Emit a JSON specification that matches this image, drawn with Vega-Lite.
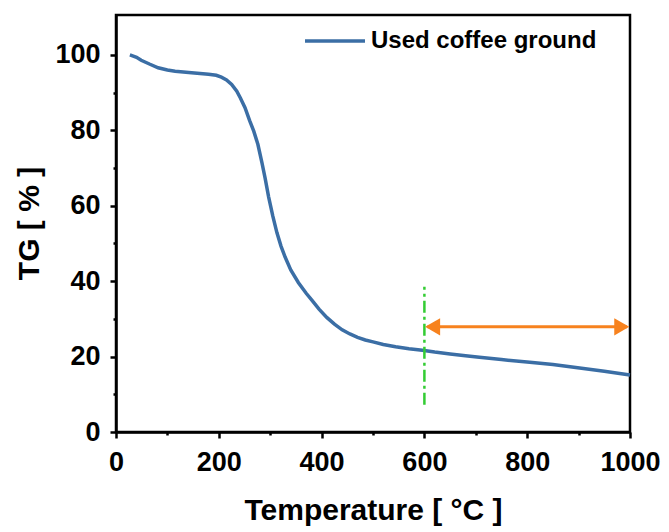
{
  "$schema": "https://vega.github.io/schema/vega-lite/v6.json",
  "width": 514,
  "height": 417,
  "autosize": {"type": "none"},
  "padding": {"left": 116, "top": 15, "right": 39, "bottom": 100},
  "background": "white",
  "config": {
    "view": {"stroke": "black", "strokeWidth": 2.5},
    "font": "Liberation Sans"
  },
  "datasets": {
    "tg": [
      {"T": 27, "TG": 100.0, "series": "Used coffee ground"},
      {"T": 40, "TG": 99.4, "series": "Used coffee ground"},
      {"T": 49, "TG": 98.6, "series": "Used coffee ground"},
      {"T": 65, "TG": 97.6, "series": "Used coffee ground"},
      {"T": 82, "TG": 96.6, "series": "Used coffee ground"},
      {"T": 100, "TG": 96.0, "series": "Used coffee ground"},
      {"T": 115, "TG": 95.7, "series": "Used coffee ground"},
      {"T": 147, "TG": 95.3, "series": "Used coffee ground"},
      {"T": 180, "TG": 94.9, "series": "Used coffee ground"},
      {"T": 195, "TG": 94.6, "series": "Used coffee ground"},
      {"T": 205, "TG": 94.1, "series": "Used coffee ground"},
      {"T": 215, "TG": 93.4, "series": "Used coffee ground"},
      {"T": 225, "TG": 92.2, "series": "Used coffee ground"},
      {"T": 235, "TG": 90.4, "series": "Used coffee ground"},
      {"T": 242, "TG": 88.6, "series": "Used coffee ground"},
      {"T": 251, "TG": 86.0, "series": "Used coffee ground"},
      {"T": 260, "TG": 82.6, "series": "Used coffee ground"},
      {"T": 268, "TG": 79.8, "series": "Used coffee ground"},
      {"T": 276, "TG": 76.3, "series": "Used coffee ground"},
      {"T": 284, "TG": 71.4, "series": "Used coffee ground"},
      {"T": 290, "TG": 67.4, "series": "Used coffee ground"},
      {"T": 297, "TG": 62.3, "series": "Used coffee ground"},
      {"T": 305, "TG": 57.3, "series": "Used coffee ground"},
      {"T": 313, "TG": 52.9, "series": "Used coffee ground"},
      {"T": 321, "TG": 49.3, "series": "Used coffee ground"},
      {"T": 329, "TG": 46.4, "series": "Used coffee ground"},
      {"T": 340, "TG": 43.0, "series": "Used coffee ground"},
      {"T": 355, "TG": 39.6, "series": "Used coffee ground"},
      {"T": 370, "TG": 36.8, "series": "Used coffee ground"},
      {"T": 381, "TG": 35.0, "series": "Used coffee ground"},
      {"T": 395, "TG": 32.6, "series": "Used coffee ground"},
      {"T": 410, "TG": 30.4, "series": "Used coffee ground"},
      {"T": 425, "TG": 28.6, "series": "Used coffee ground"},
      {"T": 440, "TG": 27.1, "series": "Used coffee ground"},
      {"T": 455, "TG": 26.0, "series": "Used coffee ground"},
      {"T": 470, "TG": 25.1, "series": "Used coffee ground"},
      {"T": 485, "TG": 24.4, "series": "Used coffee ground"},
      {"T": 500, "TG": 23.9, "series": "Used coffee ground"},
      {"T": 520, "TG": 23.2, "series": "Used coffee ground"},
      {"T": 544, "TG": 22.6, "series": "Used coffee ground"},
      {"T": 570, "TG": 22.1, "series": "Used coffee ground"},
      {"T": 596, "TG": 21.7, "series": "Used coffee ground"},
      {"T": 620, "TG": 21.2, "series": "Used coffee ground"},
      {"T": 650, "TG": 20.7, "series": "Used coffee ground"},
      {"T": 680, "TG": 20.2, "series": "Used coffee ground"},
      {"T": 707, "TG": 19.8, "series": "Used coffee ground"},
      {"T": 750, "TG": 19.2, "series": "Used coffee ground"},
      {"T": 805, "TG": 18.5, "series": "Used coffee ground"},
      {"T": 850, "TG": 17.9, "series": "Used coffee ground"},
      {"T": 902, "TG": 17.0, "series": "Used coffee ground"},
      {"T": 950, "TG": 16.1, "series": "Used coffee ground"},
      {"T": 1000, "TG": 15.1, "series": "Used coffee ground"}
    ],
    "marker": [{"T": 600, "lo": 7.2, "hi": 38.5}],
    "span": [{"T1": 606, "T2": 994, "TG": 27.9}],
    "heads": [
      {"T": 616, "TG": 27.9, "shape": "triangle-left"},
      {"T": 984, "TG": 27.9, "shape": "triangle-right"}
    ]
  },
  "encoding": {
    "x": {
      "type": "quantitative",
      "scale": {"domain": [0, 1000], "nice": false, "zero": false},
      "axis": {
        "title": "Temperature [ °C ]",
        "format": "d",
        "values": [0, 100, 200, 300, 400, 500, 600, 700, 800, 900, 1000],
        "labelExpr": "datum.value % 200 === 0 ? datum.label : ''",
        "tickSize": {"condition": {"test": "datum.value % 200 === 0", "value": 6}, "value": 3},
        "grid": false,
        "domainColor": "black",
        "domainWidth": 2.5,
        "tickColor": "black",
        "tickWidth": 2.5,
        "labelFont": "Liberation Sans",
        "labelFontWeight": "bold",
        "labelFontSize": 27,
        "labelColor": "black",
        "labelPadding": 11,
        "labelFlush": false,
        "labelOverlap": false,
        "titleFont": "Liberation Sans",
        "titleFontWeight": "bold",
        "titleFontSize": 30,
        "titleColor": "black",
        "titleBaseline": "top",
        "titleX": 257,
        "titleY": 63
      }
    },
    "y": {
      "type": "quantitative",
      "scale": {"domain": [0, 110.6], "nice": false, "zero": false},
      "axis": {
        "title": "TG [ % ]",
        "format": "d",
        "values": [0, 10, 20, 30, 40, 50, 60, 70, 80, 90, 100],
        "labelExpr": "datum.value % 20 === 0 ? datum.label : ''",
        "tickSize": {"condition": {"test": "datum.value % 20 === 0", "value": 6}, "value": 3},
        "grid": false,
        "domainColor": "black",
        "domainWidth": 2.5,
        "tickColor": "black",
        "tickWidth": 2.5,
        "labelFont": "Liberation Sans",
        "labelFontWeight": "bold",
        "labelFontSize": 27,
        "labelColor": "black",
        "labelPadding": 10,
        "labelOverlap": false,
        "titleFont": "Liberation Sans",
        "titleFontWeight": "bold",
        "titleFontSize": 30,
        "titleColor": "black",
        "titleAngle": -90,
        "titleBaseline": "bottom",
        "titleX": -72,
        "titleY": 208
      }
    }
  },
  "layer": [
    {
      "data": {"name": "tg"},
      "mark": {"type": "line", "strokeWidth": 3.5},
      "encoding": {
        "x": {"field": "T", "type": "quantitative"},
        "y": {"field": "TG", "type": "quantitative"},
        "color": {
          "field": "series",
          "type": "nominal",
          "scale": {"domain": ["Used coffee ground"], "range": ["#3b6ea5"]},
          "legend": {
            "title": null,
            "orient": "none",
            "legendX": 187,
            "legendY": -6,
            "padding": 0,
            "symbolType": "stroke",
            "symbolSize": 3600,
            "symbolStrokeWidth": 3.5,
            "labelFont": "Liberation Sans",
            "labelFontWeight": "bold",
            "labelFontSize": 24,
            "labelColor": "black",
            "labelLimit": 400,
            "labelOffset": 4
          }
        }
      }
    },
    {
      "data": {"name": "marker"},
      "mark": {"type": "rule", "color": "#33cc33", "strokeWidth": 2.5, "strokeDash": [12, 4, 3, 4]},
      "encoding": {
        "x": {"field": "T", "type": "quantitative"},
        "y": {"field": "lo", "type": "quantitative"},
        "y2": {"field": "hi"}
      }
    },
    {
      "data": {"name": "span"},
      "mark": {"type": "rule", "color": "#f7821e", "strokeWidth": 3},
      "encoding": {
        "x": {"field": "T1", "type": "quantitative"},
        "x2": {"field": "T2"},
        "y": {"field": "TG", "type": "quantitative"}
      }
    },
    {
      "data": {"name": "heads"},
      "mark": {"type": "point", "filled": true, "color": "#f7821e", "opacity": 1, "size": 300},
      "encoding": {
        "x": {"field": "T", "type": "quantitative"},
        "y": {"field": "TG", "type": "quantitative"},
        "shape": {"field": "shape", "type": "nominal", "scale": null, "legend": null}
      }
    }
  ]
}
